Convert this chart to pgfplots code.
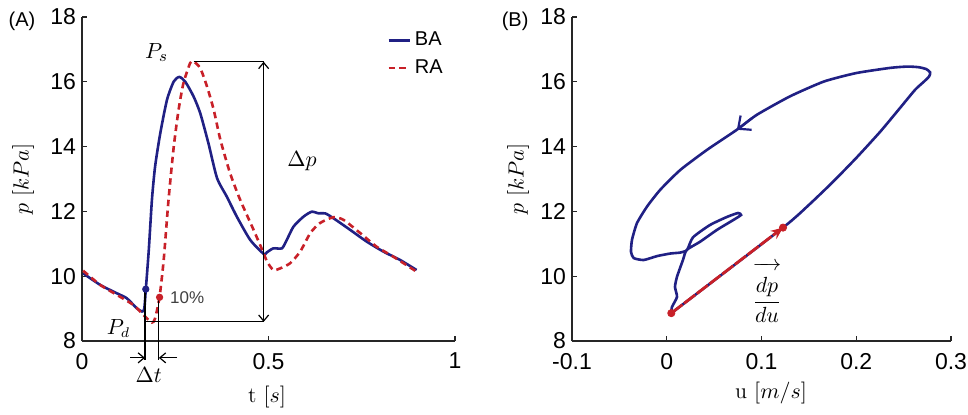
\documentclass[border=0pt]{standalone}
\usepackage{fontspec}
\setsansfont{Liberation Sans}
\usepackage{pgfplots}
\pgfplotsset{compat=1.18}
\usetikzlibrary{arrows.meta}

\definecolor{baBlue}{RGB}{32,32,132}
\definecolor{raRed}{RGB}{200,32,40}

\pgfplotsset{
  panel/.style={
    scale only axis, height=162pt,
    axis x line*=bottom, axis y line*=left,
    axis line style={black!85, line width=0.6pt},
    tick align=inside, major tick length=2.5pt,
    tick style={black!85, line width=0.6pt},
    ymin=8, ymax=18, ytick={8,10,...,18},
    tick label style={font=\sffamily\fontsize{11.5}{13}\selectfont},
    xticklabel style={yshift=-2.5pt},
    yticklabel style={xshift=0.5pt},
    /pgf/number format/assume math mode=true,
    label style={font=\fontsize{11}{13}\selectfont},
    clip=false,
  },
}

\begin{document}
\begin{tikzpicture}
\useasboundingbox (0,0) rectangle (484pt,207pt);

% (A) pressure waves
\begin{axis}[panel, at={(41pt,36.5pt)}, anchor=south west, width=186.5pt,
  xmin=0, xmax=1, xtick={0,0.5,1},
  xlabel={t $[s]$}, ylabel={$p\ [kPa]$},
  xlabel style={at={(axis description cs:0.496,-0.173)}, anchor=center},
  ylabel style={at={(axis description cs:-0.158,0.5)}, anchor=center},
  legend style={draw=none, fill=none, at={(axis description cs:0.995,0.98)},
    anchor=north east, font=\sffamily\fontsize{10}{11}\selectfont,
    row sep=1.5pt, cells={anchor=west}},
  legend image code/.code={\draw[#1] (0cm,0cm) -- (0.37cm,0cm);},
]
\addplot[baBlue, line width=1.3pt, smooth, tension=0.4] coordinates {
(0.003,10.09) (0.049,9.73) (0.094,9.47) (0.12,9.32) (0.147,9.01) (0.161,8.91)
(0.167,9.0) (0.171,9.58) (0.179,10.8) (0.1875,12.36) (0.196,13.39) (0.21,14.42)
(0.228,15.45) (0.246,16.01) (0.261,16.15) (0.277,16.0) (0.299,15.55) (0.317,15.03)
(0.339,14.1) (0.362,13.03) (0.388,12.46) (0.415,11.84) (0.451,11.12) (0.487,10.69)
(0.496,10.74) (0.513,10.86) (0.536,10.86) (0.549,11.12) (0.567,11.53) (0.594,11.84)
(0.616,11.99) (0.634,11.94) (0.652,11.94) (0.674,11.79) (0.719,11.43) (0.763,11.07)
(0.808,10.76) (0.853,10.5) (0.897,10.19)
};
\addlegendentry{BA}
\addplot[raRed, line width=1.3pt, dash pattern=on 3.2pt off 2.2pt, smooth, tension=0.4] coordinates {
(0.003,10.17) (0.049,9.73) (0.094,9.42) (0.138,9.11) (0.165,8.8) (0.1875,8.57)
(0.196,8.7) (0.208,9.37) (0.219,10.5) (0.232,12.36) (0.246,14.0) (0.259,15.14)
(0.272,15.96) (0.29,16.58) (0.299,16.63) (0.317,16.42) (0.335,15.86) (0.353,15.14)
(0.371,14.21) (0.397,13.18) (0.424,12.36) (0.46,11.43) (0.487,10.71) (0.496,10.45)
(0.513,10.19) (0.531,10.24) (0.558,10.4) (0.585,10.76) (0.612,11.33) (0.638,11.64)
(0.674,11.82) (0.701,11.74) (0.746,11.33) (0.79,10.91) (0.835,10.6) (0.897,10.14)
};
\addlegendentry{RA}
\addplot[forget plot, only marks, mark=*, mark size=1.6pt, baBlue] coordinates {(0.171,9.6)};
\addplot[forget plot, only marks, mark=*, mark size=1.6pt, raRed] coordinates {(0.208,9.35)};
% dimension lines
\draw[black, line width=0.6pt] (axis cs:0.299,16.62) -- (axis cs:0.487,16.62);
\draw[black, line width=0.6pt] (axis cs:0.169,8.59) -- (axis cs:0.487,8.59);
\draw[black, line width=0.6pt, {Straight Barb[length=3pt,width=5pt]}-{Straight Barb[length=3pt,width=5pt]}]
  (axis cs:0.487,16.62) -- (axis cs:0.487,8.59);
\draw[black, line width=0.6pt] (axis cs:0.169,9.6) -- (axis cs:0.169,7.4);
\draw[black, line width=0.6pt] (axis cs:0.206,9.35) -- (axis cs:0.206,7.4);
\draw[black, line width=0.6pt, -{Straight Barb[length=3pt,width=5pt]}] (axis cs:0.129,7.48) -- (axis cs:0.169,7.48);
\draw[black, line width=0.6pt, -{Straight Barb[length=3pt,width=5pt]}] (axis cs:0.255,7.48) -- (axis cs:0.206,7.48);
\node[font=\fontsize{11}{13}\selectfont] at (axis cs:0.2,16.9) {$P_s$};
\node[font=\fontsize{10.5}{12}\selectfont] at (axis cs:0.098,8.39) {$P_d$};
\node[font=\fontsize{10.5}{12}\selectfont] at (axis cs:0.59,13.54) {$\Delta p$};
\node[font=\fontsize{10.5}{12}\selectfont] at (axis cs:0.179,6.95) {$\Delta t$};
\node[font=\sffamily\fontsize{8.5}{10}\selectfont, text=black!75] at (axis cs:0.282,9.34) {10\%};
\node[font=\sffamily\fontsize{10}{11}\selectfont] at (axis description cs:-0.161,0.987) {(A)};
\end{axis}

% (B) pressure-velocity loop
\begin{axis}[panel, at={(286pt,36.5pt)}, anchor=south west, width=189.5pt,
  xmin=-0.1, xmax=0.3, xtick={-0.1,0,0.1,0.2,0.3},
  xlabel={u $[m/s]$}, ylabel={$p\ [kPa]$},
  xlabel style={at={(axis description cs:0.525,-0.162)}, anchor=center},
  ylabel style={at={(axis description cs:-0.142,0.5)}, anchor=center},
]
\addplot[baBlue, line width=1.3pt, smooth, tension=0.35] coordinates {
(0.0048,8.86) (0.1227,11.50) (0.150,12.20) (0.175,12.90) (0.200,13.65)
(0.225,14.45) (0.245,15.15) (0.262,15.75) (0.272,16.02) (0.277,16.17) (0.278,16.29)
(0.274,16.39) (0.266,16.45) (0.254,16.47) (0.236,16.43) (0.200,16.27) (0.166,16.01)
(0.130,15.55) (0.095,14.98) (0.074,14.52) (0.0425,13.90) (0.0143,13.28) (-0.0068,12.67)
(-0.0208,12.15) (-0.0314,11.64) (-0.0367,11.12) (-0.0377,10.75) (-0.0349,10.56)
(-0.0244,10.50) (-0.0103,10.62) (0.0038,10.70) (0.0143,10.73) (0.0214,10.81)
(0.0277,11.2) (0.0456,11.58) (0.0636,11.83) (0.0752,11.95) (0.0784,11.89)
(0.070,11.73) (0.053,11.43) (0.035,11.06) (0.021,10.81) (0.0171,10.50)
(0.0108,9.98) (0.0087,9.67) (0.0108,9.36) (0.0055,9.05) (0.0048,8.86)
};
\addplot[baBlue, line width=1.1pt, -{Straight Barb[length=5pt,width=9pt]}] coordinates {(0.090,14.88) (0.074,14.52)};
\addplot[raRed, line width=1.4pt, dash pattern=on 7pt off 1pt, -{Stealth[length=6pt,width=5pt]}] coordinates {(0.0048,8.86) (0.1227,11.50)};
\addplot[only marks, mark=*, mark size=1.8pt, raRed] coordinates {(0.0048,8.86) (0.1227,11.50)};
\node[font=\fontsize{10.5}{12}\selectfont] at (axis cs:0.1058,9.5) {$\overrightarrow{\raisebox{0pt}[1.3\height]{$\displaystyle\frac{dp}{du}$}}$};
\node[font=\sffamily\fontsize{10}{11}\selectfont] at (axis description cs:-0.150,0.987) {(B)};
\end{axis}
\end{tikzpicture}
\end{document}
